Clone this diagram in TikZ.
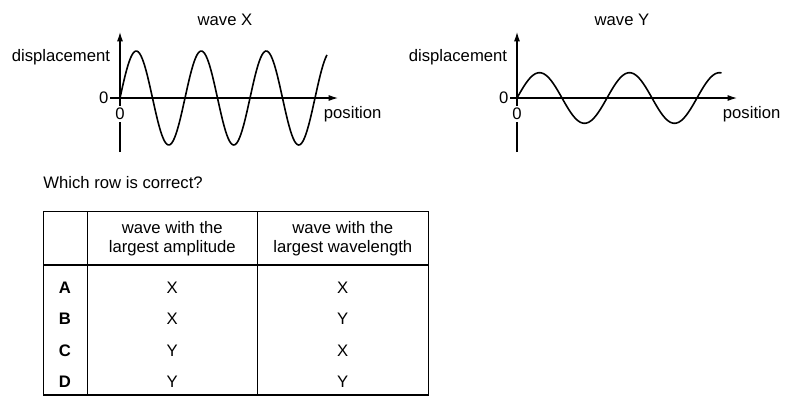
\documentclass[tikz,border=0pt]{standalone}
\usepackage{fontspec}
\setmainfont{Liberation Sans}
\usetikzlibrary{arrows.meta,positioning}
\tikzset{
    %Define standard arrow tip
    >={Latex[length=7pt,width=4.5pt]},
    %Define style for texts
    lbl/.style={
           font=\fontsize{12.5}{14.3}\selectfont,
           inner sep=0.5pt},
    % Define axis style
    axis/.style={
           ->,
           line width=0.85pt},
    % Define wave style
    wave/.style={
           line width=1.2pt,
           smooth},
    % zero under the origin
    zero/.style={
           lbl,
           fill=white,
           inner sep=1.5pt},
    % table lines
    grid/.style={
           line width=0.9pt}
}
\begin{document}
\begin{tikzpicture}[x=0.75pt, y=-0.75pt]
\useasboundingbox (0,0) rectangle (792,404);

% wave X
\coordinate (oX) at (120,98);
\coordinate (xL) at (110,98);
\coordinate (xR) at (338,98);
\coordinate (xT) at (120,32);
\coordinate (xB) at (120,152);
\draw[axis] (xB) -- (xT);
\draw[axis] (xL) -- (xR);
\draw[wave] plot[domain=0:207, samples=160] ({120+\x},{98-47*sin(5.5385*\x)});
\node[lbl, anchor=base] (titleX) at (225,25) {wave X};
\node[lbl, anchor=base east] (dispX) at (111,61) {displacement};
\node[lbl, left=0.5pt of xL] (zeroXd) {0};
\node[zero, below=6pt of oX] (zeroXp) {0};
\node[lbl, anchor=base west] (posX) at (323,118.5) {position};

% wave Y
\coordinate (oY) at (517,98);
\coordinate (yL) at (510,98);
\coordinate (yR) at (737,98);
\coordinate (yT) at (517,32);
\coordinate (yB) at (517,152);
\draw[axis] (yB) -- (yT);
\draw[axis] (yL) -- (yR);
\draw[wave] plot[domain=0:204.5, samples=160] ({517+\x},{98-25.3*sin(4*\x)});
\node[lbl, anchor=base] (titleY) at (622,25) {wave Y};
\node[lbl, anchor=base east] (dispY) at (508,61) {displacement};
\node[lbl, left=0.5pt of yL] (zeroYd) {0};
\node[zero, below=6pt of oY] (zeroYp) {0};
\node[lbl, anchor=base west] (posY) at (722,118.5) {position};

\node[lbl, anchor=base west] (question) at (42.5,188.3) {Which row is correct?};

% table
\draw[grid] (43.3,211.7) rectangle (428.3,395);
\draw[grid] (43.3,265) -- (428.3,265);
\draw[grid] (87.3,211.7) -- (87.3,395);
\draw[grid] (257.3,211.7) -- (257.3,395);
\node[lbl, align=center] (headAmp) at (172.3,238.6) {wave with the\\largest amplitude};
\node[lbl, align=center] (headLen) at (342.8,238.6) {wave with the\\largest wavelength};

\node[lbl, anchor=base, font=\fontsize{12.5}{14.3}\selectfont\bfseries] (rowA) at (65,293) {A};
\node[lbl, anchor=base] (ampA) at (172.3,293) {X};
\node[lbl, anchor=base] (lenA) at (342.8,293) {X};
\node[lbl, anchor=base, font=\fontsize{12.5}{14.3}\selectfont\bfseries] (rowB) at (65,324.5) {B};
\node[lbl, anchor=base] (ampB) at (172.3,324.5) {X};
\node[lbl, anchor=base] (lenB) at (342.8,324.5) {Y};
\node[lbl, anchor=base, font=\fontsize{12.5}{14.3}\selectfont\bfseries] (rowC) at (65,356) {C};
\node[lbl, anchor=base] (ampC) at (172.3,356) {Y};
\node[lbl, anchor=base] (lenC) at (342.8,356) {X};
\node[lbl, anchor=base, font=\fontsize{12.5}{14.3}\selectfont\bfseries] (rowD) at (65,387.5) {D};
\node[lbl, anchor=base] (ampD) at (172.3,387.5) {Y};
\node[lbl, anchor=base] (lenD) at (342.8,387.5) {Y};
\end{tikzpicture}
\end{document}
